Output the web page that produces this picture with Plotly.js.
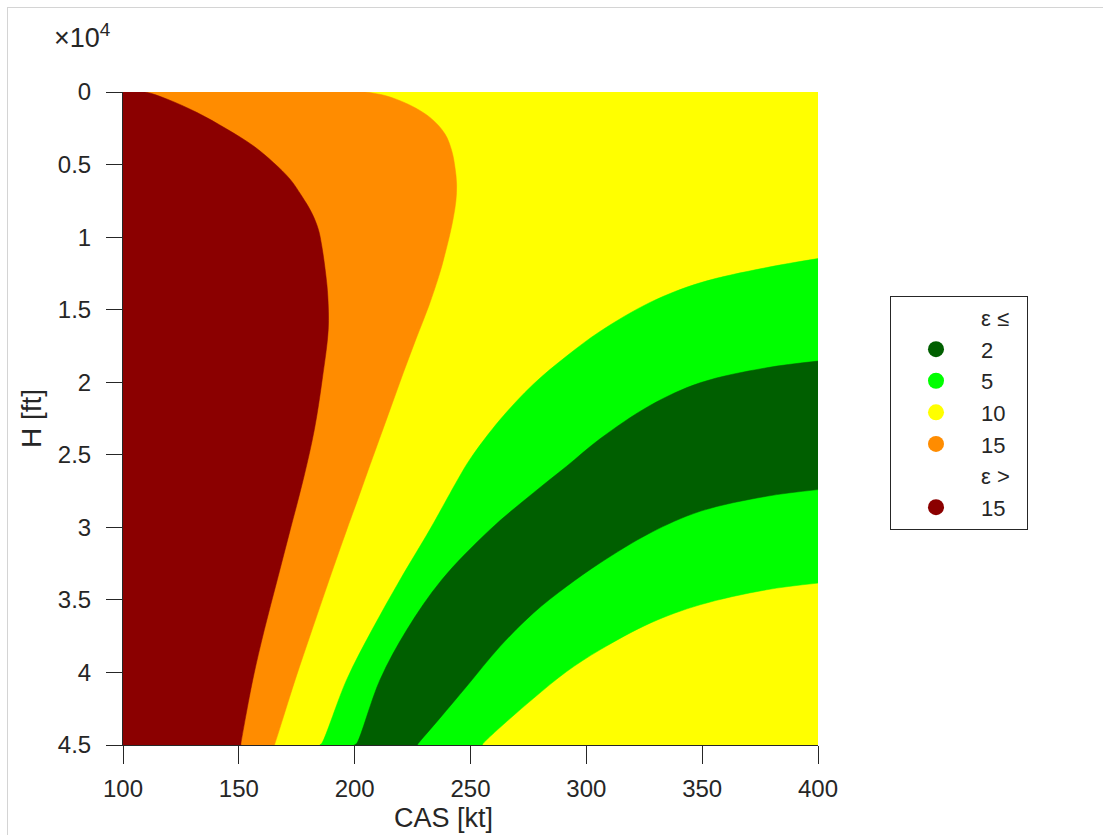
<!DOCTYPE html>
<html>
<head>
<meta charset="utf-8">
<script src="https://cdn.plot.ly/plotly-3.0.1.min.js"></script>
<style>
  html, body { margin: 0; padding: 0; background: #ffffff; }
  #wrap { position: relative; width: 1103px; height: 835px; }
  #chart { width: 1103px; height: 835px; }
  #frame { position: absolute; left: 7px; top: 7px; width: 1110px; height: 840px;
           border-top: 1px solid #d4d4d4; border-left: 1px solid #d4d4d4; pointer-events: none; }
</style>
</head>
<body>
<div id="wrap">
  <div id="chart"></div>
  <div id="frame"></div>
</div>
<script>
// ---- Axis ranges and ticks ----
const casRange = [100, 400];
const altRange = [45000, 0];
const altTickVals = [0, 5000, 10000, 15000, 20000, 25000, 30000, 35000, 40000, 45000];
const altTickText = ['0', '0.5', '1', '1.5', '2', '2.5', '3', '3.5', '4', '4.5'];
const casTickVals = [100, 150, 200, 250, 300, 350, 400];

// ---- Boundary curves (CAS [kt], H [ft]) ----
// eps = 15 contour (dark red | orange)
const b15_cas = [109.5, 118.9, 131.8, 144.8, 156.2, 164.9, 172.1, 177.1, 181.4, 184.3, 185.8, 187.6, 188.4, 188.6, 186.0, 182.6, 177.8, 172.2, 166.6, 161.0, 156.0, 150.9, 150.8];
const b15_alt = [0, 483, 1403, 2554, 3704, 4855, 6005, 7156, 8306, 9456, 10607, 12678, 14058, 16358, 19809, 23260, 26711, 30162, 33613, 37064, 40515, 44885, 45000];
// eps = 10 contour (orange | yellow)
const b10_cas = [204.5, 219.6, 232.5, 239.0, 241.9, 243.3, 244.0, 243.7, 242.6, 241.1, 238.6, 236.8, 232.0, 226.4, 221.0, 215.8, 210.6, 205.4, 201.3, 196.6, 189.0, 181.6, 174.3, 165.6, 165.3];
const b10_alt = [0, 600, 1750, 2900, 4050, 5200, 6350, 7500, 8650, 9800, 11400, 12446, 14747, 17048, 19349, 21650, 23950, 26250, 28091, 30162, 33613, 37064, 40515, 44885, 45000];
// eps = 5 contour, upper branch (yellow | green)
const b5u_cas = [400, 377.8, 349.1, 327.5, 305.9, 291.5, 277.1, 262.7, 249.8, 244.7, 239.8, 232.5, 219.6, 207.5, 196.5, 185.8, 185.0];
const b5u_alt = [11480, 12100, 13150, 14500, 16500, 18200, 20140, 22590, 25300, 26650, 28050, 30140, 33613, 37064, 40515, 44885, 45000];
// eps = 2 contour, upper branch (green | dark green)
const b2u_cas = [400, 377.8, 349.1, 327.5, 305.9, 291.5, 277.1, 258.4, 237.6, 222.5, 210.9, 200.9, 200.0];
const b2u_alt = [18545, 19004, 20037, 21600, 23900, 25790, 27630, 30162, 33613, 37064, 40515, 44885, 45000];
// eps = 2 contour, lower branch (dark green | green)
const b2l_cas = [227.0, 227.5, 236.8, 248.4, 262.7, 277.1, 291.5, 305.9, 327.5, 349.1, 377.8, 400];
const b2l_alt = [45000, 44885, 43150, 40950, 38218, 35913, 34074, 32460, 30392, 28896, 27861, 27401];
// eps = 5 contour, lower branch (green | yellow)
const b5l_cas = [255.0, 255.5, 262.7, 277.1, 291.5, 305.9, 327.5, 349.1, 377.8, 400];
const b5l_alt = [45000, 44885, 43800, 41800, 39940, 38444, 36603, 35338, 34303, 33843];

// ---- Classes / legend ----
const classNames = ['2', '5', '10', '15', '15'];
const classColors = ['#005f00', '#00ff00', '#ffff00', '#ff8c00', '#8b0000'];
const headerLe = 'ε ≤';
const headerGt = 'ε >';

// ---- Build layered region polygons from the boundaries ----
const xMin = casRange[0], xMax = casRange[1];
const yTop = altRange[1], yBot = altRange[0];

// yellow: whole field (base layer)
const yellowX = [xMin, xMax, xMax, xMin];
const yellowY = [yTop, yTop, yBot, yBot];
// green: between eps=5 upper and lower branches
const greenX = b5u_cas.concat(b5l_cas);
const greenY = b5u_alt.concat(b5l_alt);
// dark green: between eps=2 upper and lower branches
const dgreenX = b2u_cas.concat(b2l_cas);
const dgreenY = b2u_alt.concat(b2l_alt);
// orange: left edge to eps=10 curve
const orangeX = [xMin].concat(b10_cas, [xMin]);
const orangeY = [yTop].concat(b10_alt, [yBot]);
// dark red: left edge to eps=15 curve
const redX = [xMin].concat(b15_cas, [xMin]);
const redY = [yTop].concat(b15_alt, [yBot]);

function region(x, y, color, shape) {
  return {
    type: 'scatter', mode: 'lines', x: x, y: y, fill: 'toself',
    fillcolor: color, line: { width: 0.5, color: color, shape: shape, smoothing: 1 },
    hoverinfo: 'skip', showlegend: false
  };
}

const traces = [
  region(yellowX, yellowY, classColors[2], 'linear'),
  region(greenX, greenY, classColors[1], 'spline'),
  region(dgreenX, dgreenY, classColors[0], 'spline'),
  region(orangeX, orangeY, classColors[3], 'spline'),
  region(redX, redY, classColors[4], 'spline')
];

function legendItem(name, color) {
  return {
    type: 'scatter', mode: 'markers', x: [null], y: [null], name: name,
    marker: { size: 16, color: color, symbol: 'circle' },
    showlegend: true, hoverinfo: 'skip'
  };
}
traces.push(legendItem(headerLe + '\u00a0\u00a0', 'rgba(0,0,0,0)'));
for (let i = 0; i < 4; i++) traces.push(legendItem(classNames[i], classColors[i]));
traces.push(legendItem(headerGt, 'rgba(0,0,0,0)'));
traces.push(legendItem(classNames[4], classColors[4]));

const fontFam = 'Liberation Sans, Arial, Helvetica, sans-serif';
const axisCol = '#262626';

const layout = {
  width: 1103, height: 835,
  margin: { l: 123, r: 285, t: 92, b: 90, pad: 0 },
  paper_bgcolor: '#ffffff', plot_bgcolor: '#ffffff',
  font: { family: fontFam, size: 24, color: axisCol },
  showlegend: true,
  legend: {
    x: 1.1036, y: 0.688, xanchor: 'left', yanchor: 'top',
    bordercolor: '#262626', borderwidth: 1, bgcolor: '#ffffff',
    font: { family: fontFam, size: 22, color: '#262626' },
    itemwidth: 80, traceorder: 'normal'
  },
  xaxis: {
    range: casRange, tickvals: casTickVals, ticks: 'outside', ticklen: 18, tickwidth: 1,
    tickcolor: axisCol, showline: true, linecolor: axisCol, linewidth: 1,
    showgrid: false, zeroline: false, mirror: false,
    tickfont: { size: 24 }, ticklabelstandoff: 4,
    title: { text: '' }
  },
  yaxis: {
    range: altRange, tickvals: altTickVals, ticktext: altTickText, ticks: 'outside',
    ticklen: 16, tickwidth: 1, tickcolor: axisCol, showline: true, linecolor: axisCol,
    linewidth: 1, showgrid: false, zeroline: false, mirror: false,
    tickfont: { size: 24 }, ticklabelstandoff: 10,
    title: { text: 'H [ft]', font: { size: 28 }, standoff: 8 }
  },
  annotations: [
    { xref: 'paper', yref: 'paper', x: 0.461, y: 0, yshift: -56, xanchor: 'center', yanchor: 'top',
      text: 'CAS [kt]', showarrow: false, font: { size: 27, color: axisCol } },
    { xref: 'paper', yref: 'paper', x: -0.102, y: 1.085, xanchor: 'left', yanchor: 'middle',
      text: '×10<sup>4</sup>', showarrow: false, font: { size: 27, color: axisCol } }
  ]
};

Plotly.newPlot('chart', traces, layout, { displayModeBar: false, staticPlot: true });
</script>
</body>
</html>
